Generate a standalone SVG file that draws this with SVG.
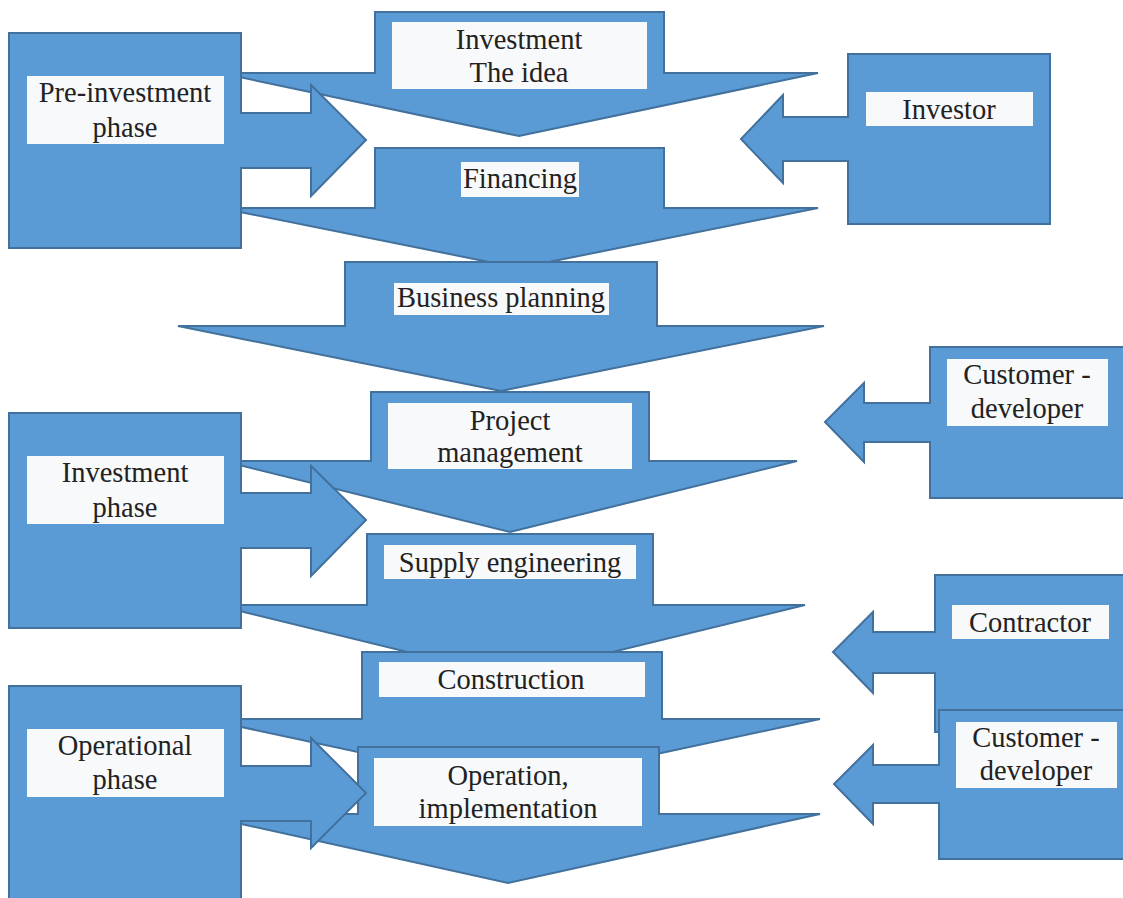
<svg xmlns="http://www.w3.org/2000/svg" width="1123" height="898" viewBox="0 0 1123 898">
<style>
.sh{fill:#5B9BD5;stroke:#41719C;stroke-width:2;stroke-linejoin:miter}
.tb{fill:#F8F9FA}
.t{font-size:28.5px;fill:#222;text-anchor:middle}
</style>
<rect width="1123" height="898" fill="#fff"/>
<g id="connectors"/>
<g font-family="'Liberation Serif', 'DejaVu Serif', serif">
<g id="investment-idea">
<path class="sh" d="M375,12 H664 V73 H818 L519,136 L220,73 H375 Z"/>
<rect class="tb" x="392" y="22" width="255" height="67"/>
<text class="t" x="519" y="49">Investment</text>
<text class="t" x="519" y="82">The idea</text>
</g>
<g id="financing">
<path class="sh" d="M375,148 H664 V208 H818 L519,268 L220,208 H375 Z"/>
<rect class="tb" x="461" y="162" width="118" height="35"/>
<text class="t" x="520" y="188">Financing</text>
</g>
<g id="business-planning">
<path class="sh" d="M345,262 H657 V326 H824 L501,391 L178,326 H345 Z"/>
<rect class="tb" x="394" y="283" width="215" height="32"/>
<text class="t" x="501" y="307">Business planning</text>
</g>
<g id="project-management">
<path class="sh" d="M371,392 H649 V461 H797 L510,532 L223,461 H371 Z"/>
<rect class="tb" x="388" y="403" width="244" height="66"/>
<text class="t" x="510" y="430">Project</text>
<text class="t" x="510" y="462">management</text>
</g>
<g id="supply-engineering">
<path class="sh" d="M367,534 H653 V605 H805 L510,677 L215,605 H367 Z"/>
<rect class="tb" x="384" y="545" width="252" height="34"/>
<text class="t" x="510" y="572">Supply engineering</text>
</g>
<g id="construction">
<path class="sh" d="M362,652 H662 V719 H820 L512,785 L204,719 H362 Z"/>
<rect class="tb" x="379" y="662" width="266" height="35"/>
<text class="t" x="511" y="689">Construction</text>
</g>
<g id="operation">
<path class="sh" d="M358,747 H659 V814 H820 L508,883 L196,814 H358 Z"/>
<rect class="tb" x="374" y="758" width="268" height="68"/>
<text class="t" x="508" y="785">Operation,</text>
<text class="t" x="508" y="818">implementation</text>
</g>
<g id="pre-investment-phase">
<path class="sh" d="M9,33 H241 V113 H311 V85 L366,140 L311,196 V168 H241 V248 H9 Z"/>
<rect class="tb" x="27" y="76" width="197" height="68"/>
<text class="t" x="125" y="102">Pre-investment</text>
<text class="t" x="125" y="137">phase</text>
</g>
<g id="investment-phase">
<path class="sh" d="M9,413 H241 V493 H311 V466 L366,520 L311,576 V548 H241 V628 H9 Z"/>
<rect class="tb" x="27" y="456" width="197" height="68"/>
<text class="t" x="125" y="482">Investment</text>
<text class="t" x="125" y="517">phase</text>
</g>
<g id="operational-phase">
<path class="sh" d="M9,686 H241 V766 H311 V738 L366,793 L311,848 V821 H241 V905 H9 Z"/>
<rect class="tb" x="27" y="729" width="197" height="68"/>
<text class="t" x="125" y="755">Operational</text>
<text class="t" x="125" y="789">phase</text>
</g>
<g id="investor">
<path class="sh" d="M848,54 H1050 V224 H848 V161 H783 V183 L741,139 L783,95 V117 H848 Z"/>
<rect class="tb" x="866" y="92" width="167" height="34"/>
<text class="t" x="949" y="119">Investor</text>
</g>
<g id="customer-developer-1">
<path class="sh" d="M930,347 H1130 V498 H930 V442 H864 V462 L825,422 L864,383 V403 H930 Z"/>
<rect class="tb" x="947" y="359" width="161" height="67"/>
<text class="t" x="1027" y="384">Customer -</text>
<text class="t" x="1027" y="418">developer</text>
</g>
<g id="contractor">
<path class="sh" d="M935,575 H1130 V732 H935 V673 H873 V693 L833,652 L873,612 V632 H935 Z"/>
<rect class="tb" x="952" y="605" width="157" height="34"/>
<text class="t" x="1030" y="632">Contractor</text>
</g>
<g id="customer-developer-2">
<path class="sh" d="M939,710 H1130 V859 H939 V803 H873 V824 L834,784 L873,745 V765 H939 Z"/>
<rect class="tb" x="956" y="722" width="161" height="66"/>
<text class="t" x="1036" y="747">Customer -</text>
<text class="t" x="1036" y="780">developer</text>
</g>
</g>
</svg>
